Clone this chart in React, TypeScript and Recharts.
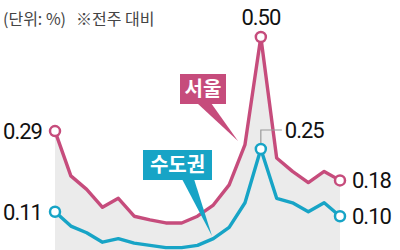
import { ComposedChart, Area, Line, XAxis, YAxis } from 'recharts'

const weeks = ['1', '2', '3', '4', '5', '6', '7', '8', '9', '10', '11', '12', '13', '14', '15', '16', '17', '18', '19']
const seoul = [0.29, 0.19, 0.16, 0.12, 0.14, 0.1, 0.092, 0.085, 0.085, 0.1, 0.125, 0.17, 0.26, 0.5, 0.23, 0.2, 0.175, 0.2, 0.18]
const capital = [0.11, 0.078, 0.063, 0.042, 0.05, 0.04, 0.035, 0.03, 0.03, 0.035, 0.05, 0.075, 0.13, 0.25, 0.14, 0.13, 0.11, 0.13, 0.1]

const PINK = '#c64c7c'
const CYAN = '#17a4c6'
const MARKED = [0, 13, 18]
const KR = "'Noto Sans CJK KR', sans-serif"

const data = weeks.map((week, i) => ({ week, i, seoul: seoul[i], capital: capital[i] }))

const numFont = { fontFamily: 'Roboto, sans-serif', fontSize: 22, fill: '#111', letterSpacing: -1 }

function makeDot(color: string) {
  return (props: any) => {
    const { cx, cy, index } = props
    if (!MARKED.includes(index)) return <g key={`d${index}`} />
    return <circle key={`d${index}`} cx={cx} cy={cy} r={5} fill="#fff" stroke={color} strokeWidth={2.5} />
  }
}

function SeoulLabel(props: any) {
  const { x, y, index, value } = props
  const txt = value.toFixed(2)
  if (index === 0) return <text x={x - 13} y={y + 8} textAnchor="end" {...numFont}>{txt}</text>
  if (index === 13) return <text x={x} y={y - 12} textAnchor="middle" {...numFont}>{txt}</text>
  if (index === 18) return <text x={x + 12} y={y + 8} {...numFont}>{txt}</text>
  return null
}

function CapitalLabel(props: any) {
  const { x, y, index, value } = props
  const txt = value.toFixed(2)
  if (index === 0) return <text x={x - 13} y={y + 8} textAnchor="end" {...numFont}>{txt}</text>
  if (index === 13)
    return (
      <g>
        <polyline points={`${x},${y - 6} ${x},${y - 19} ${x + 21},${y - 19}`} fill="none" stroke="#999" strokeWidth={1.2} />
        <text x={x + 24} y={y - 11} {...numFont}>{txt}</text>
      </g>
    )
  if (index === 18) return <text x={x + 12} y={y + 8} {...numFont}>{txt}</text>
  return null
}

export default function App() {
  return (
    <div style={{ position: 'absolute', left: 0, top: 0, width: 400, height: 250, background: '#fff' }}>
      <ComposedChart width={400} height={250} data={data} margin={{ top: 29, right: 60, bottom: 0, left: 55 }}>
        <XAxis dataKey="i" type="number" domain={[0, 18]} hide />
        <YAxis domain={[0.0246, 0.5179]} allowDataOverflow hide />
        <Area dataKey="seoul" fill="#ebebeb" fillOpacity={1} stroke="none" isAnimationActive={false} />
        <Line dataKey="seoul" stroke={PINK} strokeWidth={3.4} strokeLinejoin="round" dot={makeDot(PINK)} activeDot={false} label={SeoulLabel} isAnimationActive={false} />
        <Line dataKey="capital" stroke={CYAN} strokeWidth={3.4} strokeLinejoin="round" dot={makeDot(CYAN)} activeDot={false} label={CapitalLabel} isAnimationActive={false} />
      </ComposedChart>
      <svg width={400} height={250} style={{ position: 'absolute', left: 0, top: 0, pointerEvents: 'none' }}>
        <text x={3} y={25} fontFamily={KR} fontSize={16} fill="#444">
          (단위: %)
          <tspan x={76}>※전주 대비</tspan>
        </text>
        <polygon points="197,103 211,103 238,141" fill={PINK} />
        <rect x={180} y={74} width={46} height={30} fill={PINK} />
        <text x={203} y={96} textAnchor="middle" fontFamily={KR} fontWeight={700} fontSize={20} fill="#fff">
          서울
        </text>
        <polygon points="182,179 194,179 212,236" fill={CYAN} />
        <rect x={143} y={150} width={69} height={30} fill={CYAN} />
        <text x={177.5} y={172} textAnchor="middle" fontFamily={KR} fontWeight={700} fontSize={20} fill="#fff">
          수도권
        </text>
      </svg>
    </div>
  )
}
